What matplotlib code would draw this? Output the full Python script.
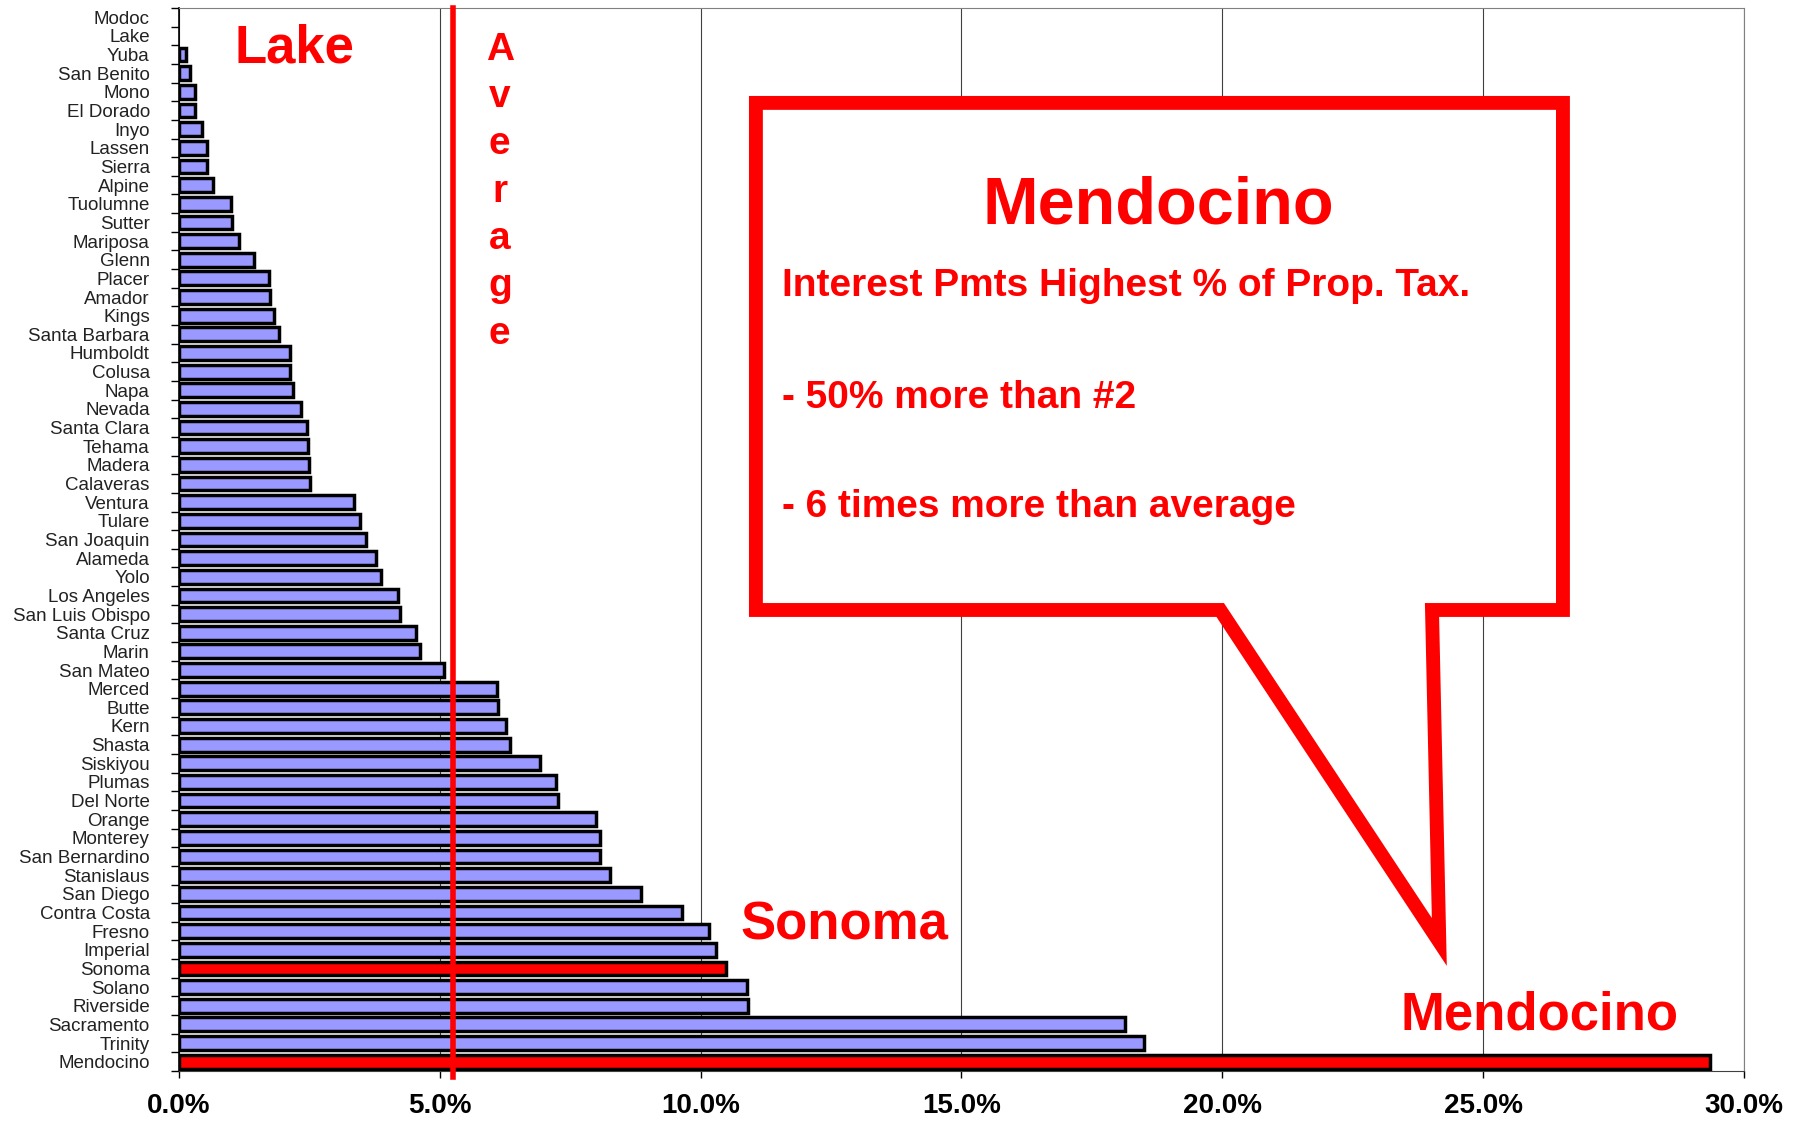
import matplotlib.pyplot as plt
from matplotlib.patches import Polygon

plt.rcParams['font.family'] = ['Liberation Sans', 'DejaVu Sans']

counties = ['Modoc', 'Lake', 'Yuba', 'San Benito', 'Mono', 'El Dorado', 'Inyo',
            'Lassen', 'Sierra', 'Alpine', 'Tuolumne', 'Sutter', 'Mariposa', 'Glenn',
            'Placer', 'Amador', 'Kings', 'Santa Barbara', 'Humboldt', 'Colusa',
            'Napa', 'Nevada', 'Santa Clara', 'Tehama', 'Madera', 'Calaveras',
            'Ventura', 'Tulare', 'San Joaquin', 'Alameda', 'Yolo', 'Los Angeles',
            'San Luis Obispo', 'Santa Cruz', 'Marin', 'San Mateo', 'Merced', 'Butte',
            'Kern', 'Shasta', 'Siskiyou', 'Plumas', 'Del Norte', 'Orange', 'Monterey',
            'San Bernardino', 'Stanislaus', 'San Diego', 'Contra Costa', 'Fresno',
            'Imperial', 'Sonoma', 'Solano', 'Riverside', 'Sacramento', 'Trinity',
            'Mendocino']
interest_pct = [0.0, 0.0, 0.13, 0.22, 0.31, 0.31, 0.44,
                0.53, 0.53, 0.66, 0.99, 1.02, 1.15, 1.44,
                1.72, 1.75, 1.83, 1.92, 2.12, 2.12,
                2.19, 2.34, 2.45, 2.48, 2.50, 2.52,
                3.36, 3.47, 3.58, 3.78, 3.87, 4.20,
                4.24, 4.55, 4.62, 5.08, 6.10, 6.12,
                6.26, 6.34, 6.92, 7.23, 7.27, 8.00, 8.07,
                8.07, 8.27, 8.86, 9.64, 10.17,
                10.30, 10.48, 10.88, 10.90, 18.14, 18.49,
                29.35]
highlight = ['Sonoma', 'Mendocino']
average_pct = 5.25
x_ticks = [0, 5, 10, 15, 20, 25, 30]

fig = plt.figure(figsize=(18.02, 11.23), dpi=100)
ax = fig.add_axes([0.0993, 0.0463, 0.8685, 0.9466])

rows = list(range(len(counties)))
colors = ['#ff0000' if c in highlight else '#9999ff' for c in counties]
edge_w = [2.5 if v > 0 else 0 for v in interest_pct]
ax.barh(rows, interest_pct, height=0.74, color=colors, edgecolor='black',
        linewidth=edge_w, zorder=3)

ax.set_xlim(0, 30)
ax.set_ylim(len(counties) - 0.5, -0.5)
ax.set_yticks(rows)
ax.set_yticklabels(counties, fontsize=13.5, color='#222222')
ax.set_yticks([i + 0.5 for i in range(-1, len(counties))], minor=True)
ax.tick_params(axis='y', which='major', length=0, pad=21)
ax.tick_params(axis='y', which='minor', length=6, width=1, direction='out')
ax.set_xticks(x_ticks)
ax.set_xticklabels([f'{t:.1f}%' for t in x_ticks], fontsize=20, fontweight='bold')
ax.tick_params(axis='x', length=5, width=1, pad=11)
ax.grid(axis='x', color='#404040', linewidth=0.8, zorder=0)
for side in ['top', 'right']:
    ax.spines[side].set_color('#808080')
ax.spines['bottom'].set_color('#404040')
ax.spines['left'].set_linewidth(1.2)

# average line with vertical label
ax.plot([average_pct, average_pct], [-0.5, 56.8], color='red', lw=4,
        clip_on=False, zorder=5)
for i, ch in enumerate('Average'):
    ax.text(6.15, 2.27 + 2.54 * i, ch, color='red', fontsize=28,
            fontweight='bold', ha='center', va='baseline')

# callout
box = Polygon([(11.06, 4.59), (26.53, 4.59), (26.53, 31.78), (24.02, 31.78),
               (24.16, 49.58), (19.96, 31.78), (11.06, 31.78)], closed=True,
              facecolor='white', edgecolor='red', linewidth=10,
              joinstyle='miter', zorder=4)
ax.add_patch(box)
ax.text(18.78, 11.08, 'Mendocino', color='red', fontsize=48, fontweight='bold',
        ha='center', va='baseline', zorder=6)
body = ['Interest Pmts Highest % of Prop. Tax.', '- 50% more than #2',
        '- 6 times more than average']
for line, yb in zip(body, [14.94, 20.95, 26.79]):
    ax.text(11.56, yb, line, color='red', fontsize=28, fontweight='bold',
            ha='left', va='baseline', zorder=6)

ax.text(1.07, 2.40, 'Lake', color='red', fontsize=38, fontweight='bold',
        ha='left', va='baseline', zorder=6)
ax.text(10.77, 49.47, 'Sonoma', color='red', fontsize=38, fontweight='bold',
        ha='left', va='baseline', zorder=6)
ax.text(23.41, 54.3, 'Mendocino', color='red', fontsize=38, fontweight='bold',
        ha='left', va='baseline', zorder=6)

fig.savefig('out.png', dpi=100, facecolor='white')
